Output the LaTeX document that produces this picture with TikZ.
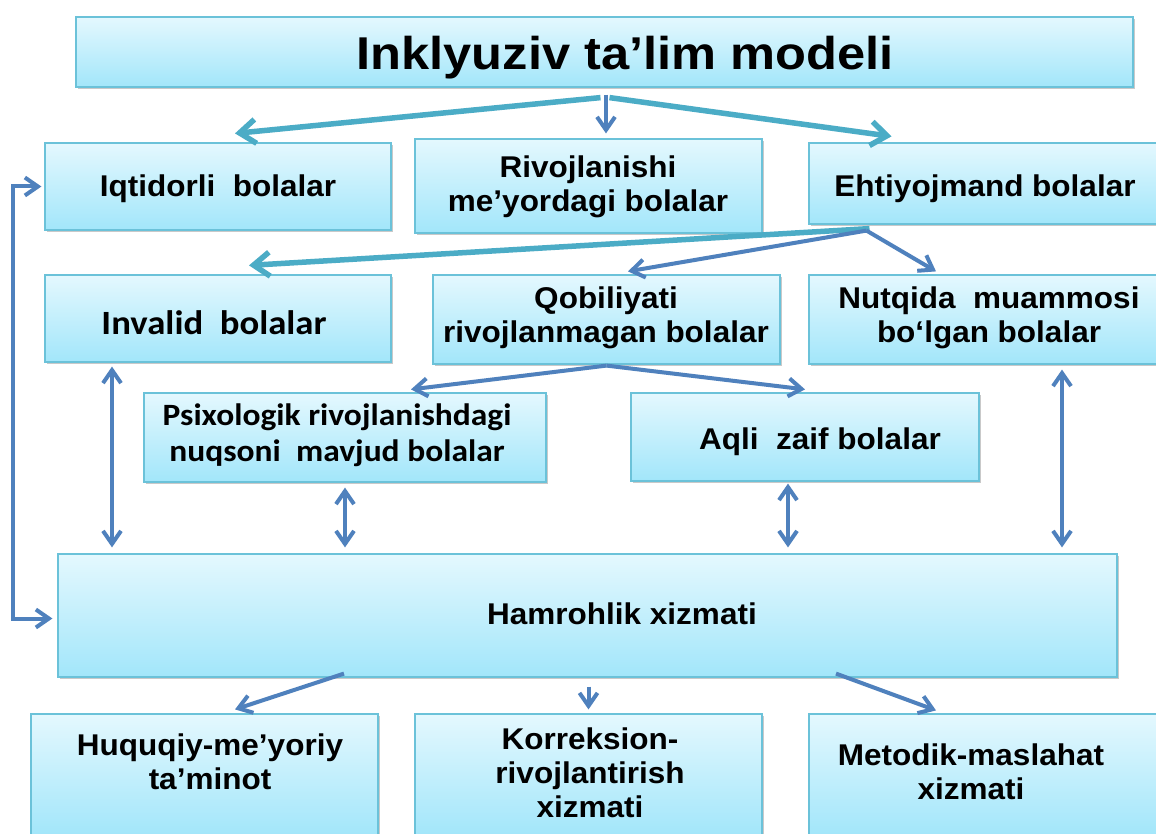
\documentclass[tikz,border=0pt]{standalone}
\usepackage{fontspec}
\setmainfont{Liberation Sans}
\newfontfamily\boxfont[FakeStretch=1.05]{Liberation Sans}
\newfontfamily\titlefont[FakeStretch=1.1]{Liberation Sans}
\newfontfamily\calfont[FakeStretch=1.08]{Carlito}
\usetikzlibrary{arrows.meta,shadows}
\definecolor{boxtop}{HTML}{E4F8FE}
\definecolor{boxbot}{HTML}{A2E6FA}
\definecolor{boxline}{HTML}{6BC2D9}
\definecolor{tealc}{HTML}{4BACC6}
\definecolor{bluec}{HTML}{4F81BD}
\begin{document}
\begin{tikzpicture}[x=1pt,y=-1pt,
  box/.style={draw=boxline, line width=1.2pt, top color=boxtop, bottom color=boxbot,
    drop shadow={shadow xshift=1.5pt,shadow yshift=-2pt,opacity=0.35,fill=black!60},
    inner sep=0pt},
  txt/.style={align=center, inner sep=0pt,
    font=\boxfont\bfseries\fontsize{30}{34}\selectfont},
  caltxt/.style={txt, font=\calfont\bfseries\fontsize{31}{36}\selectfont},
  tealar/.style={draw=tealc, line width=5.5pt, -{Straight Barb[length=16pt,width=24pt]}},
  bluear/.style={draw=bluec, line width=4pt, -{Straight Barb[length=13pt,width=18pt]}},
  dblar/.style={draw=bluec, line width=4pt, {Straight Barb[length=13pt,width=18pt]}-{Straight Barb[length=13pt,width=18pt]}}
]
\clip (0,0) rectangle (1156,834);
\fill[white] (0,0) rectangle (1156,834);

% boxes
\node[box, minimum width=1057pt, minimum height=70pt] (title) at (604.5,52) {};
\node[box, minimum width=346pt, minimum height=87pt] (iq) at (218,186.5) {};
\node[box, minimum width=347pt, minimum height=94pt] (riv) at (588.5,186) {};
\node[box, minimum width=351pt, minimum height=81pt] (eht) at (984.5,183.5) {};
\node[box, minimum width=346pt, minimum height=87pt] (inv) at (218,318.5) {};
\node[box, minimum width=347pt, minimum height=89pt] (qob) at (606.5,319.5) {};
\node[box, minimum width=351pt, minimum height=89pt] (nut) at (984.5,319.5) {};
\node[box, minimum width=402pt, minimum height=89pt] (psi) at (345,437.5) {};
\node[box, minimum width=348pt, minimum height=88pt] (aq) at (805,437) {};
\node[box, minimum width=1059pt, minimum height=123pt] (ham) at (587.5,615.5) {};
\node[box, minimum width=347pt, minimum height=122pt] (huq) at (204.5,775) {};
\node[box, minimum width=347pt, minimum height=122pt] (kor) at (588.5,775) {};
\node[box, minimum width=351pt, minimum height=122pt] (met) at (984.5,775) {};

% texts
\node[txt, font=\titlefont\bfseries\fontsize{46}{52}\selectfont] (titlet) at (625,58) {Inklyuziv ta’lim modeli};
\node[txt] (iqt) at (218,189) {Iqtidorli\ \ bolalar};
\node[txt] (rivt) at (588,187) {Rivojlanishi\\me’yordagi bolalar};
\node[txt] (ehtt) at (985,189) {Ehtiyojmand bolalar};
\node[caltxt, font=\calfont\bfseries\fontsize{34}{38}\selectfont] (invt) at (214,323) {Invalid\ \ bolalar};
\node[txt] (qobt) at (606,318) {Qobiliyati\\rivojlanmagan bolalar};
\node[txt] (nutt) at (989,318) {Nutqida\ \ muammosi\\bo‘lgan bolalar};
\node[caltxt] (psit) at (337,435) {Psixologik rivojlanishdagi\\nuqsoni\ \ mavjud bolalar};
\node[txt] (aqt) at (820,442) {Aqli\ \ zaif bolalar};
\node[txt] (hamt) at (622,614) {Hamrohlik xizmati};
\node[txt] (huqt) at (210,762) {Huquqiy-me’yoriy\\ta’minot};
\node[txt] (kort) at (590,773) {Korreksion-\\rivojlantirish\\xizmati};
\node[txt] (mett) at (971,772) {Metodik-maslahat\\xizmati};

% top level arrows
\draw[tealar] ([xshift=-4pt,yshift=-10pt]title.south) -- ([xshift=17pt,yshift=9pt]iq.north);
\draw[bluear] ([xshift=1.5pt,yshift=-7pt]title.south) -- ([xshift=17.5pt,yshift=5pt]riv.north);
\draw[tealar] ([xshift=5pt,yshift=-10pt]title.south) -- ([xshift=-93pt,yshift=6pt]eht.north);

% from Ehtiyojmand
\draw[tealar] ([xshift=-115pt,yshift=-4pt]eht.south) -- ([xshift=31pt,yshift=9pt]inv.north);
\draw[bluear] ([xshift=-118pt,yshift=-6pt]eht.south) -- ([xshift=21.5pt,yshift=3pt]qob.north);
\draw[bluear] ([xshift=-118pt,yshift=-6pt]eht.south) -- ([xshift=-48.5pt,yshift=3pt]nut.north);

% from Qobiliyati
\draw[bluear] ([yshift=-1pt]qob.south) -- ([xshift=66pt,yshift=3pt]psi.north);
\draw[bluear] ([yshift=-1pt]qob.south) -- ([yshift=3pt]aq.north);

% vertical double arrows to Hamrohlik
\draw[dblar] ([xshift=-106pt,yshift=-4pt]inv.south) -- ([xshift=-475.5pt,yshift=6pt]ham.north);
\draw[dblar] ([yshift=-5pt]psi.south) -- ([xshift=-242.5pt,yshift=6pt]ham.north);
\draw[dblar] ([xshift=-17pt,yshift=-2pt]aq.south) -- ([xshift=200.5pt,yshift=6pt]ham.north);
\draw[dblar] ([xshift=77.5pt,yshift=-5pt]nut.south) -- ([xshift=474.5pt,yshift=6pt]ham.north);

% loop on the left
\draw[dblar] ([xshift=-3pt]iq.west) -- ++(-28pt,0) |- ([xshift=-5pt,yshift=-3pt]ham.west);

% bottom arrows
\draw[bluear] ([xshift=-243.5pt,yshift=4pt]ham.south) -- ([xshift=30.5pt,yshift=4pt]huq.north);
\draw[bluear] ([xshift=1pt,yshift=-9pt]ham.south) -- ([yshift=4pt]kor.north);
\draw[bluear] ([xshift=248.5pt,yshift=4pt]ham.south) -- ([xshift=-48.5pt,yshift=3pt]met.north);
\end{tikzpicture}
\end{document}
